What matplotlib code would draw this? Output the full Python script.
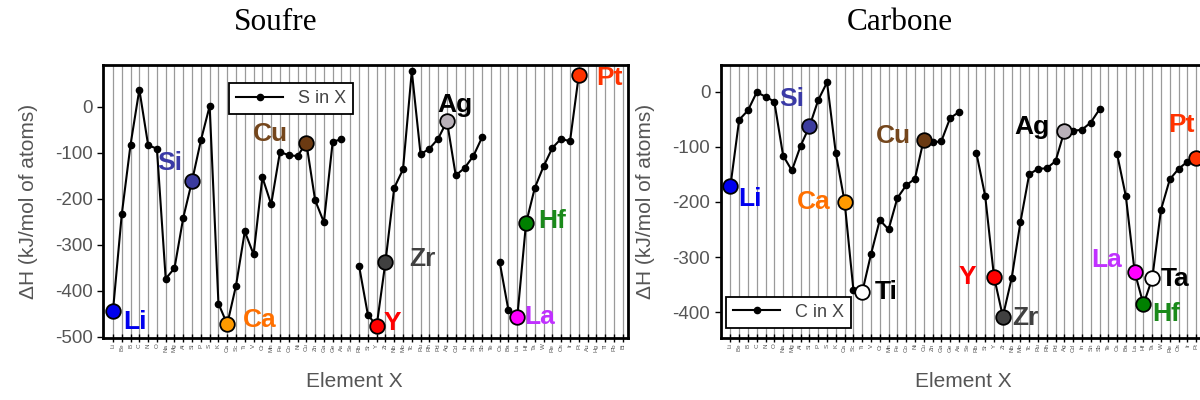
import numpy as np
import matplotlib.pyplot as plt

plt.rcParams['font.family'] = ['Liberation Sans', 'DejaVu Sans']
plt.rcParams['axes.unicode_minus'] = False

elements = ['Li', 'Be', 'B', 'C', 'N', 'O', 'Na', 'Mg', 'Al', 'Si', 'P', 'S',
            'K', 'Ca', 'Sc', 'Ti', 'V', 'Cr', 'Mn', 'Fe', 'Co', 'Ni', 'Cu', 'Zn',
            'Ga', 'Ge', 'As', 'Se', 'Rb', 'Sr', 'Y', 'Zr', 'Nb', 'Mo', 'Tc', 'Ru',
            'Rh', 'Pd', 'Ag', 'Cd', 'In', 'Sn', 'Sb', 'Te', 'Cs', 'Ba', 'La', 'Hf',
            'Ta', 'W', 'Re', 'Os', 'Ir', 'Pt', 'Au', 'Hg', 'Tl', 'Pb', 'Bi']

nan = np.nan
soufre = [-444, -234, -82, 38, -83, -91, -374, -351, -241, -161, -73, 2,
          -428, -473, -389, -271, -321, -153, -212, -98, -105, -107, -78, -203,
          -251, -76, -70, nan, -346, -452, -477, -338, -176, -136, 78, -103,
          -91, -69, -31, -149, -133, -107, -66, nan, -338, -443, -458, -253,
          -176, -129, -89, -69, -75, 69, nan, nan, nan, nan, nan]

carbone = [-172, -51, -34, -1, -9, -18, -116, -143, -98, -63, -15, 17,
           -112, -200, -360, -364, -295, -233, -250, -193, -170, -158, -87, -92,
           -90, -48, -37, nan, -112, -190, -336, -408, -339, -237, -150, -140,
           -139, -126, -72, -71, -69, -56, -32, nan, -113, -190, -327, -386,
           -339, -214, -159, -140, -127, -121, nan, nan, nan, nan, nan]

soufre_hl = ['Li', 'Si', 'Ca', 'Cu', 'Y', 'Zr', 'Ag', 'La', 'Hf', 'Pt']
carbone_hl = ['Li', 'Si', 'Ca', 'Ti', 'Cu', 'Y', 'Zr', 'Ag', 'La', 'Hf', 'Ta', 'Pt']

# marker face colour, label colour
hl_colors = {
    'Li': ('#0000ee', '#0000ee'),
    'Si': ('#3b3b9e', '#3a3aa6'),
    'Ca': ('#ff9a00', '#ff7000'),
    'Ti': ('#ffffff', '#000000'),
    'Cu': ('#6b3a12', '#74461c'),
    'Y': ('#ff0000', '#ff0000'),
    'Zr': ('#404040', '#404040'),
    'Ag': ('#b9b1b9', '#000000'),
    'La': ('#ff00ff', '#c030ff'),
    'Hf': ('#008000', '#1a8a1a'),
    'Ta': ('#ffffff', '#000000'),
    'Pt': ('#ff3300', '#ff3300'),
}

# label offsets in pixels
soufre_off = {'Li': (22, -11), 'Si': (-22, 18), 'Ca': (32, 4), 'Cu': (-36, 9),
              'Y': (16, 3), 'Zr': (37, 3), 'Ag': (8, 16), 'La': (22, 0),
              'Hf': (26, 2), 'Pt': (31, -3)}
carbone_off = {'Li': (20, -13), 'Si': (-18, 27), 'Ca': (-31, 0), 'Ti': (24, 0),
               'Cu': (-30, 4), 'Y': (-27, 0), 'Zr': (23, -1), 'Ag': (-32, 4),
               'La': (-28, 12), 'Hf': (23, -10), 'Ta': (23, -1), 'Pt': (-15, 33)}

fig = plt.figure(figsize=(12, 4), dpi=100)
ax1 = fig.add_axes([103.3 / 1200, 62 / 400, 524.7 / 1200, 273.3 / 400])
ax2 = fig.add_axes([720.7 / 1200, 62 / 400, 524.7 / 1200, 273.3 / 400])

x = np.arange(len(elements))


def draw(ax, vals, hl, offs, name, ylim, yticks, n_labels):
    for xi in x:
        ax.axvline(xi, color='#9a9a9a', lw=0.9, zorder=0)
    ax.plot(x, vals, '-o', color='black', lw=1.5, ms=4.5, label=name, zorder=2)
    for el in hl:
        i = elements.index(el)
        face, tcol = hl_colors[el]
        ax.plot(x[i], vals[i], 'o', ms=10.5, mfc=face, mec='black', mew=1.3,
                zorder=3, clip_on=False)
        ax.annotate(el, (x[i], vals[i]), xytext=offs[el], textcoords='offset pixels',
                    ha='center', va='center', fontsize=19, fontweight='bold',
                    color=tcol, annotation_clip=False, zorder=4)
    ax.set_xlim(-1.1, 58.6)
    ax.set_ylim(*ylim)
    ax.set_yticks(yticks)
    ax.set_xticks(x)
    # labels that would fall past the figure edge are left empty
    labels = [e if k < n_labels else '' for k, e in enumerate(elements)]
    ax.set_xticklabels(labels, rotation=90, fontsize=4.5, color='#555555')
    ax.tick_params(axis='x', direction='inout', length=6, width=1, pad=1)
    ax.tick_params(axis='y', direction='out', length=4, width=1,
                   labelsize=13.5, labelcolor='#555555')
    for sp in ax.spines.values():
        sp.set_linewidth(2)
    ax.set_ylabel('ΔH (kJ/mol of atoms)', fontsize=15, color='#555555')
    ax.yaxis.set_label_coords(-0.125, 0.5)
    ax.set_xlabel('Element X', fontsize=15, color='#555555')


draw(ax1, soufre, soufre_hl, soufre_off, 'S in X', (-503, 92),
     [0, -100, -200, -300, -400, -500], len(elements))
draw(ax2, carbone, carbone_hl, carbone_off, 'C in X', (-447, 49),
     [0, -100, -200, -300, -400], 54)

ax1.xaxis.set_label_coords(0.479, -0.125)
ax2.xaxis.set_label_coords(0.462, -0.125)

leg_kw = dict(frameon=True, fancybox=False, framealpha=1, edgecolor='black',
              fontsize=13, handlelength=2.6, borderaxespad=0, labelcolor='#444444')
l1 = ax1.legend(loc='upper left', bbox_to_anchor=(0.2396, 0.933), **leg_kw)
l2 = ax2.legend(loc='lower left', bbox_to_anchor=(0.0101, 0.0366), **leg_kw)
for lg in (l1, l2):
    lg.get_frame().set_linewidth(1.3)

fig.text(276 / 1200, 1 - 22 / 400, 'Soufre', ha='center', va='center',
         fontsize=22.5, family='Liberation Serif')
fig.text(900 / 1200, 1 - 22 / 400, 'Carbone', ha='center', va='center',
         fontsize=22.5, family='Liberation Serif')

fig.savefig('out.png', dpi=100)
